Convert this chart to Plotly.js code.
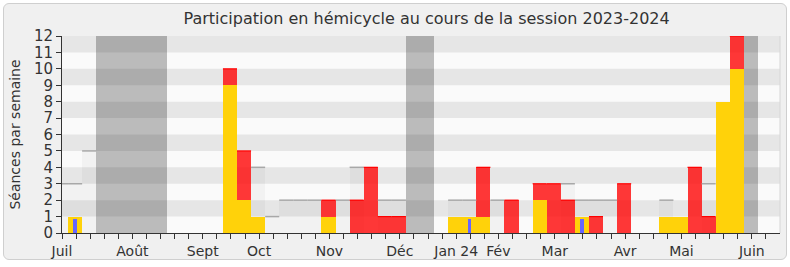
<!DOCTYPE html>
<html><head><meta charset="utf-8">
<script src="https://cdn.plot.ly/plotly-3.0.1.min.js"></script>
<style>
html,body{margin:0;padding:0;background:#fff;}
#frame{position:absolute;left:3px;top:3px;width:782px;height:255px;border:1px solid #cfcfcf;border-radius:6px;background:#f0f0f0;}
#chart{position:absolute;left:0;top:0;width:790px;height:267px;}
</style></head><body>
<div id="frame"></div><div id="chart"></div>
<script>
// week index (week -1 is the partial week before the session starts)
const weeks = [-1,0,1,2,3,4,5,6,7,8,
  9,10,11,12,13,14,15,16,17,18,
  19,20,21,22,23,24,25,26,27,28,
  29,30,31,32,33,34,35,36,37,38,
  39,40,41,42,43,44,45,46,47,48,
  49,50];
// séances with interventions (yellow)
const yellow = [0,1,0,0,0,0,0,0,0,0,
  0,0,9,2,1,0,0,0,0,1,
  0,0,0,0,0,0,0,0,1,1,
  1,0,0,0,2,0,0,1,0,0,
  0,0,0,1,1,0,0,8,10,0,
  0,0];
// other séances present (red, stacked above yellow)
const red = [0,0,0,0,0,0,0,0,0,0,
  0,0,1,3,0,0,0,0,0,1,
  0,2,4,1,1,0,0,0,0,0,
  3,0,2,0,1,3,2,0,1,0,
  3,0,0,0,0,4,1,0,2,0,
  0,0];
// questions orales (blue)
const blue = [0,0.87,0,0,0,0,0,0,0,0,
  0,0,0,0,0,0,0,0,0,0,
  0,0,0,0,0,0,0,0,0,0.87,
  0,0,0,0,0,0,0,0.87,0,0,
  0,0,0,0,0,0,0,0,0,0,
  0,0];
// médiane des députés (only where visible)
const median = [3,3,5,0,0,0,0,0,0,0,
  0,0,0,0,4,1,2,2,2,0,
  2,4,0,2,2,0,0,0,2,2,
  0,2,0,0,0,0,3,2,2,2,
  0,0,0,2,0,0,3,0,0,0,
  0,0];
// vacances parlementaires
const vacation = [0,0,0,1,1,1,1,1,0,0,
  0,0,0,0,0,0,0,0,0,0,
  0,0,0,0,0,1,1,0,0,0,
  0,0,0,0,0,0,0,0,0,0,
  0,0,0,0,0,0,0,0,0,1,
  0,0];
const tickWeeks = [0,1,2,3,4,5,6,7,8,9,10,11,12,13,14,15,16,17,18,19,20,21,22,23,24,25,26,27,28,29,30,31,32,33,34,35,36,37,38,39,40,41,42,43,44,45,46,47,48,49,50];
const monthWeeks = [0,5,10,14,19,24,28,31,35,40,44,49];
const monthLabels = ['Juil','Août','Sept','Oct','Nov','Déc','Jan 24','Fév','Mar','Avr','Mai','Juin'];
const yMax = 12;

const tickOffset = -0.43;
const xc = weeks.map(w => w + 0.5);
const tickvals = tickWeeks.map(k => k + tickOffset);
const ticktext = tickWeeks.map(k => { const i = monthWeeks.indexOf(k); return i >= 0 ? monthLabels[i] : ''; });

const mx = [], my = [];
weeks.forEach((w, i) => { if (median[i] > 0) { mx.push(w, w + 1, null); my.push(median[i], median[i], null); } });
const rx = [], ry = [];
weeks.forEach((w, i) => { if (red[i] > 0) { const t = yellow[i] + red[i]; rx.push(w, w + 1, null); ry.push(t, t, null); } });

const traces = [
  {type:'bar', x:xc, y:median, width:1, marker:{color:'rgba(0,0,0,0.03)'}, hoverinfo:'skip'},
  {type:'bar', x:xc, y:vacation.map(v => v ? yMax : 0), width:1, marker:{color:'rgba(0,0,0,0.25)'}, hoverinfo:'skip'},
  {type:'scatter', mode:'lines', x:mx, y:my, line:{color:'#a8a8a8', width:1.5}, connectgaps:false, hoverinfo:'skip'},
  {type:'bar', x:xc, y:yellow, width:1, marker:{color:'rgb(255,210,10)'}},
  {type:'bar', x:xc, y:red, base:yellow, width:1, marker:{color:'rgba(255,0,0,0.78)'}},
  {type:'scatter', mode:'lines', x:rx, y:ry, line:{color:'rgb(255,0,0)', width:1.2}, connectgaps:false, hoverinfo:'skip'},
  {type:'bar', x:xc, y:blue, width:0.24, marker:{color:'rgb(102,102,255)'}}
];

const shapes = [];
for (let k = 1; k < yMax; k += 2) {
  shapes.push({type:'rect', layer:'below', xref:'paper', x0:0, x1:1, yref:'y', y0:k, y1:k+1, fillcolor:'#e6e6e6', line:{width:0}});
}
shapes.push({type:'line', xref:'paper', x0:1, x1:1, yref:'paper', y0:0, y1:1, line:{color:'#d6d6d6', width:1}});

const font = {family:'DejaVu Sans, Verdana, sans-serif', color:'#333'};
const layout = {
  width:790, height:267,
  margin:{l:62, r:10, t:36, b:34},
  paper_bgcolor:'rgba(0,0,0,0)', plot_bgcolor:'#fafafa',
  showlegend:false, barmode:'overlay', bargap:0,
  font:font,
  title:{text:'Participation en hémicycle au cours de la session 2023-2024', font:{family:font.family, size:16, color:'#333'}, x:0.54, xanchor:'center', y:0.93, yanchor:'middle', yref:'container'},
  xaxis:{range:[weeks[1] + tickOffset, weeks[weeks.length-1] + 1 + tickOffset], tickmode:'array', tickvals:tickvals, ticktext:ticktext,
    ticks:'outside', ticklen:5, tickcolor:'#333', showline:true, linecolor:'#333', linewidth:1, showgrid:false, zeroline:false,
    tickfont:{size:14, color:'#333'}},
  xaxis2:{overlaying:'x', matches:'x', side:'top', anchor:'y', tickmode:'array', tickvals:tickvals, showticklabels:false,
    ticks:'inside', ticklen:2, tickcolor:'#333', showline:false, showgrid:false, zeroline:false},
  yaxis:{range:[0, yMax], tickmode:'array', tickvals:[0,1,2,3,4,5,6,7,8,9,10,11,12], ticks:'outside', ticklen:5, tickcolor:'#333',
    showline:true, linecolor:'#333', linewidth:1, showgrid:false, zeroline:false, tickfont:{size:15, color:'#333'},
    title:{text:'Séances par semaine', font:{size:14, color:'#333'}, standoff:10}},
  shapes:shapes
};
Plotly.newPlot('chart', traces, layout, {staticPlot:true, displayModeBar:false});
</script></body></html>
